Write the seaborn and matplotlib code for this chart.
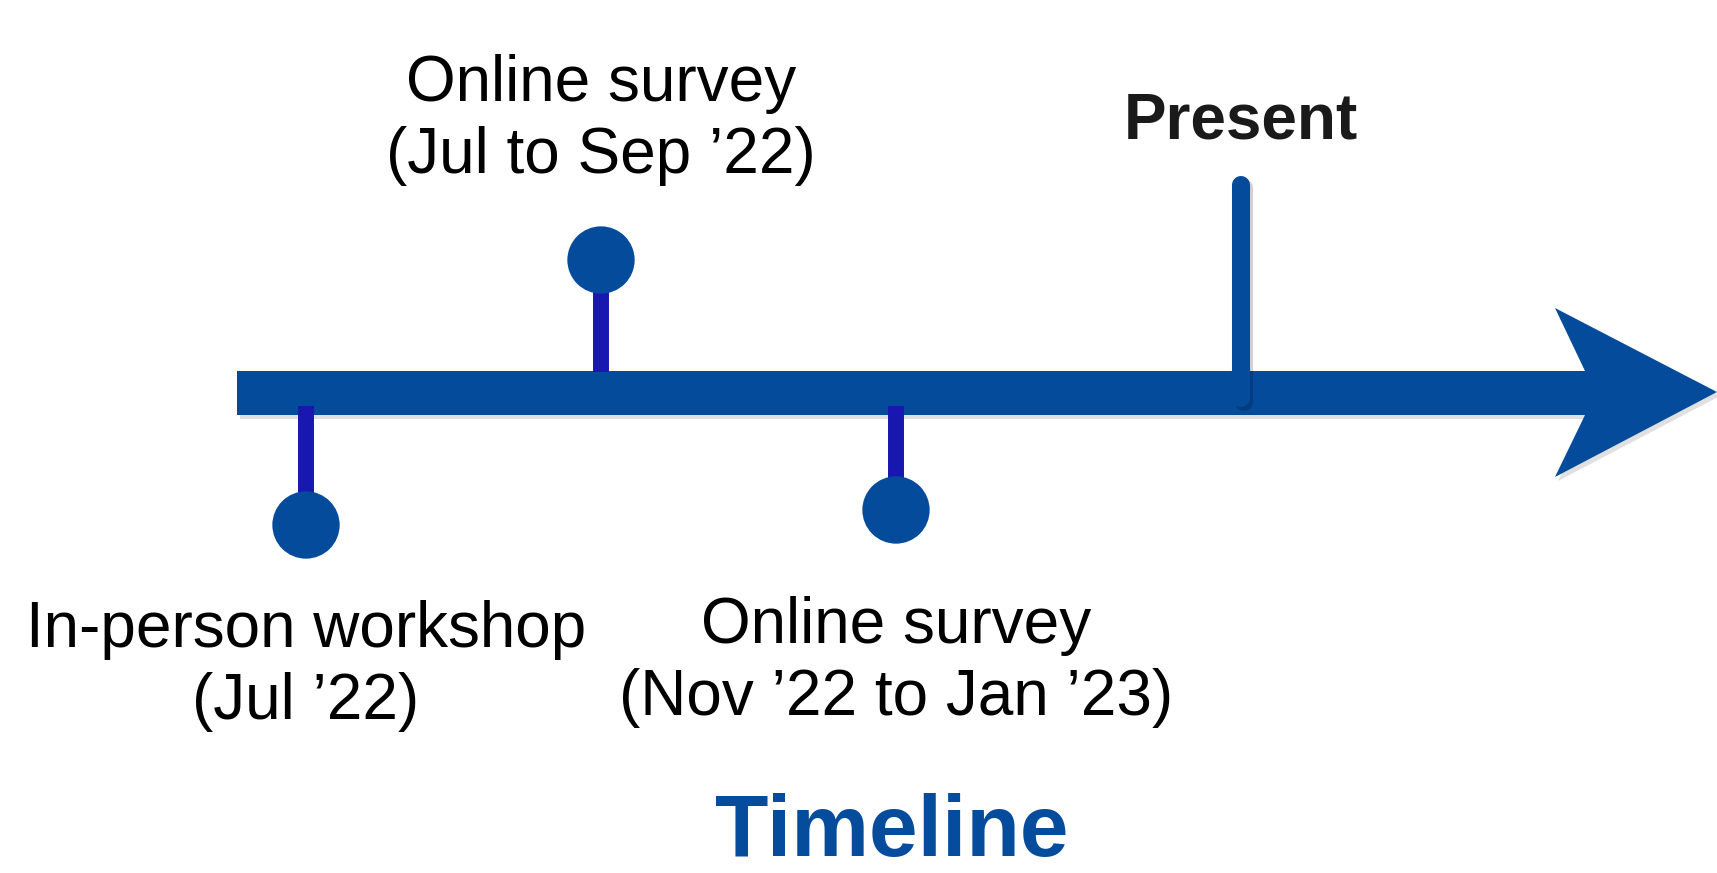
import matplotlib.pyplot as plt
import seaborn as sns
import pandas as pd
from matplotlib.patches import Polygon

# timeline events (position along the timeline, in event steps)
event_labels = ['In-person workshop\n(Jul \u201922)',
                'Online survey\n(Jul to Sep \u201922)',
                'Online survey\n(Nov \u201922 to Jan \u201923)']
event_pos = [1.0, 2.0, 3.0]
event_side = ['below', 'above', 'below']
present_pos = 4.17

sns.set_theme(style='white')
plt.rcParams['font.family'] = ['Liberation Sans', 'DejaVu Sans']

shaft_col = '#044b9b'
stem_col = '#1818b0'
px = 295.0  # pixels per event step

fig = plt.figure(figsize=(17.17, 8.73), dpi=100)
ax = fig.add_axes([0, 0, 1, 1])
x0 = 1 - 306 / px
ax.set_xlim(x0, x0 + 1717 / px)
ax.set_ylim(873, 0)
ax.axis('off')

# arrow: shaft + swept head, y in pixel rows
def to_x(p):
    return x0 + p / px
arrow = [(to_x(237), 371), (to_x(1585), 371), (to_x(1555), 308), (to_x(1717), 392),
         (to_x(1555), 477), (to_x(1585), 415), (to_x(237), 415)]
shadow = [(x + 3 / px, y + 4) for x, y in arrow]
ax.add_patch(Polygon(shadow, closed=True, color='black', alpha=0.12, lw=0, zorder=1))
ax.add_patch(Polygon(arrow, closed=True, color=shaft_col, lw=0, zorder=2))

df = pd.DataFrame({'pos': event_pos, 'label': event_labels, 'side': event_side})
df['dot_y'] = [525 if s == 'below' else 260 for s in df['side']]
df.loc[2, 'dot_y'] = 510
df['stem_start'] = [406 if s == 'below' else 372 for s in df['side']]

ax.vlines(df['pos'], df['stem_start'], df['dot_y'], color=stem_col, lw=11.5, zorder=3)
sns.scatterplot(data=df, x='pos', y='dot_y', s=2350, color=shaft_col,
                edgecolor='none', ax=ax, zorder=4, legend=False)

for _, r in df.iterrows():
    if r['side'] == 'above':
        ty = 120
    elif r['pos'] == 3.0:
        ty = 662
    else:
        ty = 666
    ax.text(r['pos'], ty, r['label'], ha='center', va='center', fontsize=46,
            linespacing=1.24, color='black')

# present marker (with a faint shadow so it reads over the shaft)
ax.plot([present_pos + 3 / px] * 2, [188, 402], color='black', alpha=0.18, lw=13,
        solid_capstyle='round', zorder=2.5)
ax.plot([present_pos, present_pos], [185, 398], color=shaft_col, lw=13,
        solid_capstyle='round', zorder=3)
ax.text(present_pos, 121.5, 'Present', ha='center', va='center', fontsize=46,
        fontweight='bold', color='#1a1a1a')

ax.text(to_x(892), 833.5, 'Timeline', ha='center',
        va='center', fontsize=63, fontweight='bold', color='#064c9c')

fig.savefig('out.png', dpi=100, facecolor='white')
